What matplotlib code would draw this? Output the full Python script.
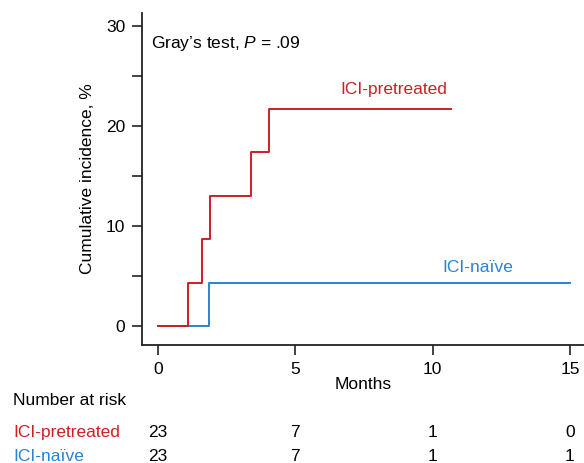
import matplotlib
matplotlib.use("Agg")
import matplotlib.pyplot as plt

plt.rcParams['font.family'] = ['Liberation Sans', 'DejaVu Sans']
plt.rcParams['mathtext.fontset'] = 'custom'
plt.rcParams['mathtext.it'] = 'Liberation Sans:italic'
plt.rcParams['mathtext.rm'] = 'Liberation Sans'

# step data (months, cumulative incidence %)
pre_t = [0, 1.08, 1.60, 1.88, 3.39, 4.03, 10.67]
pre_y = [0, 4.35, 8.70, 13.04, 17.39, 21.74, 21.74]
naive_t = [0, 1.86, 15.0]
naive_y = [0, 4.35, 4.35]

risk_times = [0, 5, 10, 15]
risk_pre = [23, 7, 1, 0]
risk_naive = [23, 7, 1, 1]

red = '#cc1f24'
blue = '#2a83d0'
fs = 12.5

fig = plt.figure(figsize=(5.84, 4.63), dpi=100)
ax = fig.add_axes([142/584, 118/463, 442/584, 332/463])

ax.step(naive_t, naive_y, where='post', color=blue, lw=1.4)
ax.step(pre_t, pre_y, where='post', color=red, lw=1.4)

ax.set_xlim(-0.58, 15.51)
ax.set_ylim(-1.9, 31.3)
ax.set_xticks([0, 5, 10, 15])
ax.set_yticks([0, 10, 20, 30])
ax.set_yticks([5, 15, 25], minor=True)
ax.tick_params(axis='both', which='both', direction='out', length=7, width=1.2,
               labelsize=fs, color='#222222')
ax.tick_params(axis='y', pad=5)
ax.tick_params(axis='x', pad=5)
for s in ['top', 'right']:
    ax.spines[s].set_visible(False)
for s in ['left', 'bottom']:
    ax.spines[s].set_linewidth(1.3)
    ax.spines[s].set_color('#222222')

ax.set_xlabel('Months', fontsize=fs, labelpad=0)
ax.set_ylabel('Cumulative incidence, %', fontsize=fs, labelpad=8)

ax.text(-0.25, 28.3, r'Gray’s test, $P$ = .09', fontsize=fs, va='center', ha='left')
ax.text(6.63, 23.7, 'ICI-pretreated', color=red, fontsize=fs, va='center', ha='left')
ax.text(10.34, 5.9, 'ICI-naïve', color=blue, fontsize=fs, va='center', ha='left')

# number at risk table
fig.text(13/584, 1 - 405/463, 'Number at risk', fontsize=fs, va='baseline', ha='left')
fig.text(13/584, 1 - 437/463, 'ICI-pretreated', color=red, fontsize=fs, va='baseline', ha='left')
fig.text(13/584, 1 - 461/463, 'ICI-naïve', color=blue, fontsize=fs, va='baseline', ha='left')
for t, a, b in zip(risk_times, risk_pre, risk_naive):
    xf = ax.transData.transform((t, 0))[0] / fig.bbox.width
    fig.text(xf, 1 - 437/463, str(a), fontsize=fs, va='baseline', ha='center')
    fig.text(xf, 1 - 461/463, str(b), fontsize=fs, va='baseline', ha='center')

fig.savefig('out.png', dpi=100)
